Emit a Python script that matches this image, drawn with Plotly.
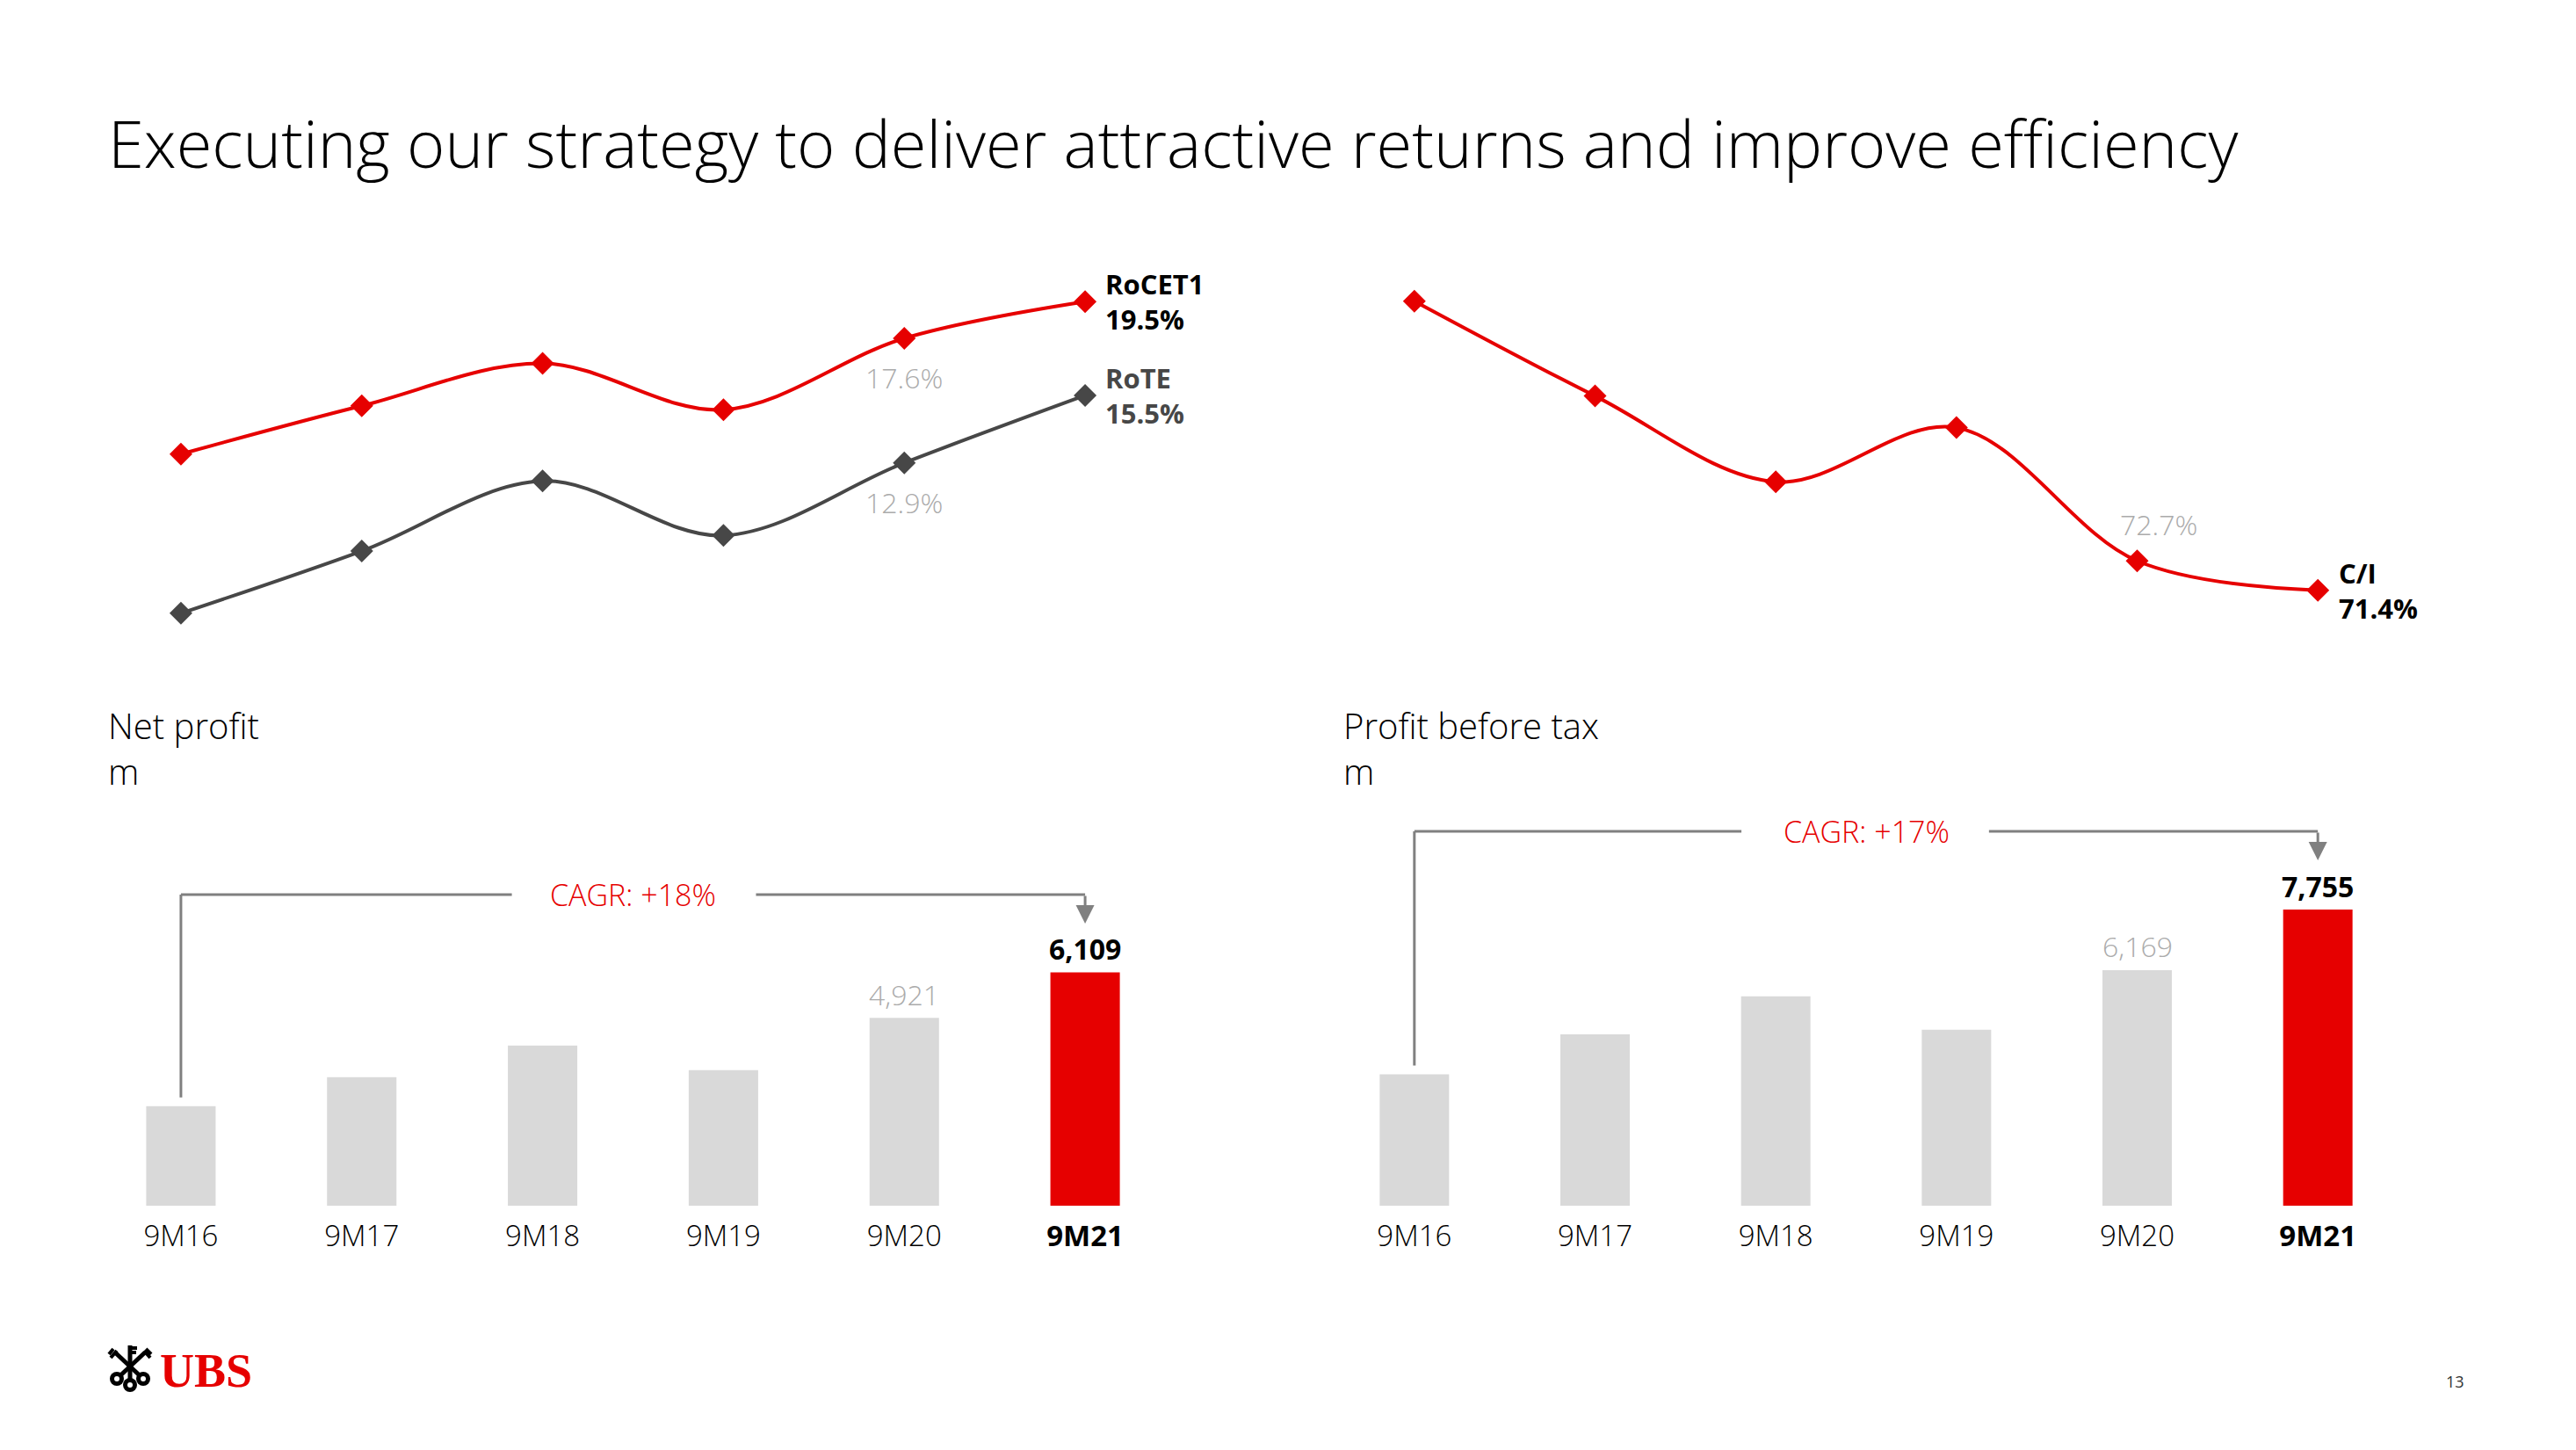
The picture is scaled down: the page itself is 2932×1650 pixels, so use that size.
import plotly.graph_objects as go

# ---------------- data ----------------
categories = ["9M16", "9M17", "9M18", "9M19", "9M20", "9M21"]
tick_labels = ["9M16", "9M17", "9M18", "9M19", "9M20", "<b>9M21</b>"]
rocet1 = [11.6, 14.1, 16.3, 13.9, 17.6, 19.5]          # %
rote = [7.1, 9.5, 12.2, 10.1, 12.9, 15.5]              # %
cost_income = [84.2, 80.0, 76.2, 78.6, 72.7, 71.4]     # %
net_profit = [2605, 3366, 4196, 3550, 4921, 6109]      # m
profit_before_tax = [3441, 4486, 5484, 4606, 6169, 7755]  # m
cagr_np = "CAGR: +18%"
cagr_pbt = "CAGR: +17%"

# ---------------- styling / layout helpers ----------------
W, H = 2932, 1650
OFF = 8  # page body margin
RED = "#e60000"
DARK = "#474747"
LIGHTBAR = "#d9d9d9"
LABELGREY = "#ababab"
BRACKET = "#808080"
FONT = "Open Sans"


def fx(p):
    return (p - OFF) / W


def fy(p):
    return 1 - (p - OFF) / H


BAR_PX_PER_UNIT = 0.04345
BAR_BASE_PX, BAR_TOP_PX = 1372, 880
bar_range = [0, (BAR_BASE_PX - BAR_TOP_PX) / BAR_PX_PER_UNIT]

fig = go.Figure()

# line charts
fig.add_trace(go.Scatter(
    x=categories, y=rocet1, xaxis="x", yaxis="y", mode="lines+markers",
    line=dict(color=RED, width=4, shape="spline", smoothing=1.0),
    marker=dict(symbol="diamond", size=20, color=RED), cliponaxis=False,
    showlegend=False))
fig.add_trace(go.Scatter(
    x=categories, y=rote, xaxis="x", yaxis="y2", mode="lines+markers",
    line=dict(color=DARK, width=4, shape="spline", smoothing=1.0),
    marker=dict(symbol="diamond", size=20, color=DARK), cliponaxis=False,
    showlegend=False))
fig.add_trace(go.Scatter(
    x=categories, y=cost_income, xaxis="x2", yaxis="y3", mode="lines+markers",
    line=dict(color=RED, width=4, shape="spline", smoothing=1.0),
    marker=dict(symbol="diamond", size=20, color=RED), cliponaxis=False,
    showlegend=False))

# bar charts
bar_colors = [LIGHTBAR] * (len(categories) - 1) + [RED]
fig.add_trace(go.Bar(x=categories, y=net_profit, xaxis="x3", yaxis="y4",
                     marker=dict(color=bar_colors, line=dict(width=0)),
                     showlegend=False))
fig.add_trace(go.Bar(x=categories, y=profit_before_tax, xaxis="x4", yaxis="y5",
                     marker=dict(color=bar_colors, line=dict(width=0)),
                     showlegend=False))

left_dom = [fx(103), fx(1338)]
right_dom = [fx(1507), fx(2741)]
line_dom = [fy(720), fy(300)]
bar_dom = [fy(BAR_BASE_PX), fy(BAR_TOP_PX)]

hidden = dict(visible=False, fixedrange=True)
xcat = dict(type="category", categoryorder="array", categoryarray=categories,
            range=[-0.5, 5.5])
tickax = dict(showgrid=False, zeroline=False, showline=False,
              ticks="outside", ticklen=5, tickcolor="rgba(0,0,0,0)",
              tickvals=categories, ticktext=tick_labels,
              tickfont=dict(family=FONT, size=33, color="#000000", weight=300))

fig.update_layout(
    width=W, height=H,
    margin=dict(l=0, r=0, t=0, b=0),
    paper_bgcolor="white", plot_bgcolor="white",
    font=dict(family=FONT, color="#000000"),
    bargap=0.616,
    showlegend=False,
    xaxis=dict(domain=left_dom, anchor="y", **xcat, **hidden),
    xaxis2=dict(domain=right_dom, anchor="y3", **xcat, **hidden),
    xaxis3=dict(domain=left_dom, anchor="y4", **xcat, **tickax),
    xaxis4=dict(domain=right_dom, anchor="y5", **xcat, **tickax),
    yaxis=dict(domain=line_dom, anchor="x", range=[2.34, 21.47], **hidden),
    yaxis2=dict(overlaying="y", anchor="x", range=[6.35, 20.58], **hidden),
    yaxis3=dict(domain=line_dom, anchor="x2", range=[69.52, 85.86], **hidden),
    yaxis4=dict(domain=bar_dom, anchor="x3", range=bar_range, **hidden),
    yaxis5=dict(domain=bar_dom, anchor="x4", range=bar_range, **hidden),
)

ann = []
# title
ann.append(dict(xref="paper", yref="paper", x=fx(121), y=fy(162), xanchor="left",
                yanchor="middle", showarrow=False,
                text="Executing our strategy to deliver attractive returns and improve efficiency",
                font=dict(family=FONT, size=74, color="#000000", weight=300)))
# panel titles
for xpx, title in [(121, "Net profit"), (1527, "Profit before tax")]:
    ann.append(dict(xref="paper", yref="paper", x=fx(xpx), y=fy(852), xanchor="left",
                    yanchor="middle", showarrow=False, align="left",
                    text=f"{title}<br>m",
                    font=dict(family=FONT, size=40, color="#000000", weight=300)))

# line labels
ann.append(dict(xref="x", yref="y", x=categories[4], y=rocet1[4], yshift=-45,
                showarrow=False, text=f"{rocet1[4]:.1f}%",
                font=dict(family=FONT, size=32, color=LABELGREY, weight=300)))
ann.append(dict(xref="x", yref="y2", x=categories[4], y=rote[4], yshift=-45,
                showarrow=False, text=f"{rote[4]:.1f}%",
                font=dict(family=FONT, size=32, color=LABELGREY, weight=300)))
ann.append(dict(xref="x2", yref="y3", x=categories[4], y=cost_income[4], yshift=42,
                xshift=24, showarrow=False, text=f"{cost_income[4]:.1f}%",
                font=dict(family=FONT, size=32, color=LABELGREY, weight=300)))
ann.append(dict(xref="x", yref="y", x=categories[5], y=rocet1[5], xshift=21,
                xanchor="left", yanchor="middle", showarrow=False, align="left",
                text=f"<b>RoCET1<br>{rocet1[5]:.1f}%</b>",
                font=dict(family=FONT, size=31, color="#000000")))
ann.append(dict(xref="x", yref="y2", x=categories[5], y=rote[5], xshift=21,
                xanchor="left", yanchor="middle", showarrow=False, align="left",
                text=f"<b>RoTE<br>{rote[5]:.1f}%</b>",
                font=dict(family=FONT, size=31, color=DARK)))
ann.append(dict(xref="x2", yref="y3", x=categories[5], y=cost_income[5], xshift=22,
                xanchor="left", yanchor="middle", showarrow=False, align="left",
                text=f"<b>C/I<br>{cost_income[5]:.1f}%</b>",
                font=dict(family=FONT, size=31, color="#000000")))

# bar value labels
for xr, yr, vals in [("x3", "y4", net_profit), ("x4", "y5", profit_before_tax)]:
    ann.append(dict(xref=xr, yref=yr, x=categories[4], y=vals[4], yshift=27,
                    yanchor="middle", showarrow=False, text=f"{vals[4]:,}",
                    font=dict(family=FONT, size=32, color=LABELGREY, weight=300)))
    ann.append(dict(xref=xr, yref=yr, x=categories[5], y=vals[5], yshift=27,
                    yanchor="middle", showarrow=False, text=f"<b>{vals[5]:,}</b>",
                    font=dict(family=FONT, size=32, color="#000000")))

shapes = []
# CAGR brackets (level in axis units, gap around label in category units)
brackets = [
    ("x3", "y4", net_profit, 8147, 1.83, 3.18, cagr_np),
    ("x4", "y5", profit_before_tax, 9804, 1.81, 3.18, cagr_pbt),
]
gap_units = 10 / BAR_PX_PER_UNIT
drop_px = 33
for xr, yr, vals, level, g0, g1, label in brackets:
    line = dict(color=BRACKET, width=3)
    shapes.append(dict(type="line", xref=xr, yref=yr, x0=0, x1=0,
                       y0=vals[0] + gap_units, y1=level, line=line))
    shapes.append(dict(type="line", xref=xr, yref=yr, x0=0, x1=g0,
                       y0=level, y1=level, line=line))
    shapes.append(dict(type="line", xref=xr, yref=yr, x0=g1, x1=5,
                       y0=level, y1=level, line=line))
    ann.append(dict(xref=xr, yref=yr, x=5, y=level - drop_px / BAR_PX_PER_UNIT,
                    ax=0, ay=-drop_px, showarrow=True, arrowhead=2, arrowsize=1.4,
                    arrowwidth=3, arrowcolor=BRACKET, text=""))
    ann.append(dict(xref=xr, yref=yr, x=2.5, y=level, yanchor="middle",
                    showarrow=False, text=label,
                    font=dict(family=FONT, size=34, color=RED, weight=300)))

# UBS logo (keys + wordmark)
def P(x, y):
    return fx(x), fy(y)

key_line = dict(color="#000000", width=5)
for (bx, by), (tx, ty) in [((133, 1569), (165, 1539)), ((163, 1569), (131, 1539)),
                           ((148, 1576), (148, 1531))]:
    x0, y0 = P(bx, by)
    x1, y1 = P(tx, ty)
    shapes.append(dict(type="line", xref="paper", yref="paper", x0=x0, y0=y0,
                       x1=x1, y1=y1, line=key_line))
for cx, cy in [(133, 1569), (163, 1569), (148, 1576)]:
    x0, y0 = P(cx - 8, cy + 8)
    x1, y1 = P(cx + 8, cy - 8)
    shapes.append(dict(type="circle", xref="paper", yref="paper", x0=x0, y0=y0,
                       x1=x1, y1=y1, fillcolor="#000000", line=dict(width=0)))
    x0, y0 = P(cx - 3, cy + 3)
    x1, y1 = P(cx + 3, cy - 3)
    shapes.append(dict(type="circle", xref="paper", yref="paper", x0=x0, y0=y0,
                       x1=x1, y1=y1, fillcolor="#ffffff", line=dict(width=0)))
for (ax0, ay0), (ax1, ay1) in [((126, 1545), (133, 1537)), ((164, 1537), (171, 1545)),
                               ((148, 1534), (156, 1534)), ((124, 1541), (129, 1535)),
                               ((166, 1535), (172, 1541)), ((148, 1539), (155, 1539))]:
    x0, y0 = P(ax0, ay0)
    x1, y1 = P(ax1, ay1)
    shapes.append(dict(type="line", xref="paper", yref="paper", x0=x0, y0=y0,
                       x1=x1, y1=y1, line=dict(color="#000000", width=4)))
ann.append(dict(xref="paper", yref="paper", x=fx(180), y=fy(1560), xanchor="left",
                yanchor="middle", showarrow=False, text="<b>UBS</b>",
                font=dict(family="Liberation Serif", size=54, color=RED)))
ann.append(dict(xref="paper", yref="paper", x=fx(2794), y=fy(1572), xanchor="center",
                yanchor="middle", showarrow=False, text="13",
                font=dict(family=FONT, size=18, color="#333333")))

fig.update_layout(annotations=ann, shapes=shapes)
fig.write_html("out.html")
